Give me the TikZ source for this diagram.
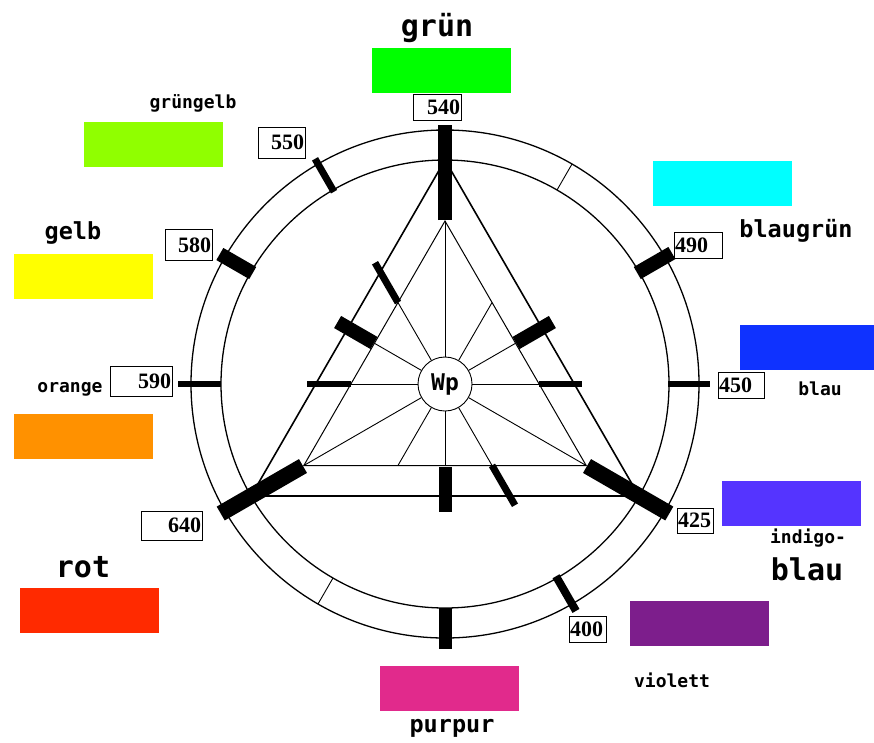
\documentclass[tikz,border=0pt]{standalone}
\usepackage{fontspec}
\newfontfamily\lblfont{DejaVu Sans Mono}
\newfontfamily\numfont{Liberation Serif}
\definecolor{cgruen}{RGB}{0,255,0}
\definecolor{cgruengelb}{RGB}{144,255,0}
\definecolor{cgelb}{RGB}{255,255,0}
\definecolor{corange}{RGB}{255,145,0}
\definecolor{crot}{RGB}{255,42,0}
\definecolor{cpurpur}{RGB}{225,42,140}
\definecolor{cviolett}{RGB}{125,30,140}
\definecolor{cindigo}{RGB}{85,52,255}
\definecolor{cblau}{RGB}{15,50,255}
\definecolor{cblaugruen}{RGB}{0,255,255}
\begin{document}
\begin{tikzpicture}[x=1pt,y=1pt,
  ring/.style={line width=1.3pt},
  outertri/.style={line width=1.6pt},
  innertri/.style={line width=1pt},
  ray/.style={line width=0.9pt},
  swatch/.style={rectangle, inner sep=0pt, minimum width=139pt, minimum height=45pt},
  numbox/.style={rectangle, draw, line width=0.8pt, fill=white, inner xsep=1pt, inner ysep=0pt,
    font=\numfont\bfseries\fontsize{22}{22}\selectfont},
  lblS/.style={inner sep=0pt, font=\lblfont\bfseries\fontsize{18}{18}\selectfont},
  lblM/.style={inner sep=0pt, font=\lblfont\bfseries\fontsize{23.5}{23.5}\selectfont},
  lblL/.style={inner sep=0pt, font=\lblfont\bfseries\fontsize{30}{30}\selectfont}]
\useasboundingbox (0,0) rectangle (874,-742);

\begin{scope}[shift={(445,-384)}]
  % rings
  \draw[ring] (0,0) circle[radius=254];
  \draw[ring] (0,0) circle[radius=224];
  % triangles
  \draw[outertri] (90:224) -- (210:224) -- (330:224) -- cycle;
  \draw[innertri] (90:163) -- (210:163) -- (330:163) -- cycle;
  % centre
  \node[circle, draw, line width=0.9pt, fill=white, minimum size=54pt, inner sep=0pt,
        font=\lblfont\bfseries\fontsize{23}{23}\selectfont] (wp) at (0,0) {Wp};
  % rays
  \foreach \a/\r in {0/94.1,30/81.5,60/94.1,90/163,120/94.1,150/81.5,180/94.1,210/163,240/94.1,270/81.5,300/94.1,330/163}
    \draw[ray] (wp.\a) -- (\a:\r);
  % thin ticks across the ring
  \foreach \a in {60,240}
    \draw[ray] (\a:224) -- (\a:254);
  % inner bars
  \foreach \a/\ra/\rb/\w in {0/94/137/6, 30/82/124/14, 120/94/140/7, 150/82/124/14, 180/94/138/6, 270/83/128/13, 300/94/140/7}
    \draw[line width=\w pt] (\a:\ra) -- (\a:\rb);
  % vertex bars
  \foreach \a/\w in {90/14, 210/16, 330/16}
    \draw[line width=\w pt] (\a:164) -- (\a:259);
  % ring bars
  \foreach \a/\ra/\rb/\w in {0/223/265/6, 30/222/262/14, 120/222/260/7, 150/222/260/14, 180/224/267/6, 270/224/265/13, 300/222/262/8}
    \draw[line width=\w pt] (\a:\ra) -- (\a:\rb);
\end{scope}

% number boxes
\node[numbox, text width=46pt, minimum height=26pt, align=right] (n540) at (437,-107) {540};
\node[numbox, text width=45pt, minimum height=31pt, align=right] (n550) at (281.5,-142.5) {550};
\node[numbox, text width=45pt, minimum height=31pt, align=right] (n580) at (188.5,-245) {580};
\node[numbox, text width=60pt, minimum height=30pt, align=right] (n590) at (141,-381) {590};
\node[numbox, text width=59pt, minimum height=29pt, align=right] (n640) at (171.5,-525.5) {640};
\node[numbox, text width=46pt, minimum height=26pt, align=left] (n490) at (698,-245) {490};
\node[numbox, text width=44pt, minimum height=26pt, align=left] (n450) at (741,-385) {450};
\node[numbox, text width=34pt, minimum height=25pt, align=left] (n425) at (695,-520.5) {425};
\node[numbox, text width=35pt, minimum height=26pt, align=left] (n400) at (587.5,-629) {400};

% colour swatches
\node[swatch, fill=cgruen] (sgruen) at (441.5,-70.5) {};
\node[swatch, fill=cgruengelb] (sgruengelb) at (153.5,-144) {};
\node[swatch, fill=cgelb] (sgelb) at (83.5,-276) {};
\node[swatch, fill=corange] (sorange) at (83.5,-436) {};
\node[swatch, fill=crot] (srot) at (89.5,-610.5) {};
\node[swatch, fill=cpurpur] (spurpur) at (449.5,-688.5) {};
\node[swatch, fill=cviolett] (sviolett) at (699.5,-623) {};
\node[swatch, fill=cindigo] (sindigo) at (791.5,-503) {};
\node[swatch, fill=cblau] (sblau) at (809.5,-347) {};
\node[swatch, fill=cblaugruen] (sblaugruen) at (722.5,-183) {};

% labels
\node[lblL] (tgruen) at (437,-27.5) {grün};
\node[lblS] (tgruengelb) at (193,-103.5) {grüngelb};
\node[lblM] (tgelb) at (73,-232.5) {gelb};
\node[lblS] (torange) at (70,-389.5) {orange};
\node[lblL] (trot) at (83,-567.5) {rot};
\node[lblM] (tpurpur) at (452,-728) {purpur};
\node[lblS] (tviolett) at (672,-680.5) {violett};
\node[lblS] (tindigo) at (808,-538.5) {indigo-};
\node[lblL] (tindigoblau) at (807,-569.5) {blau};
\node[lblS] (tblau) at (820,-388.5) {blau};
\node[lblM] (tblaugruen) at (796,-231) {blaugrün};
\end{tikzpicture}
\end{document}
